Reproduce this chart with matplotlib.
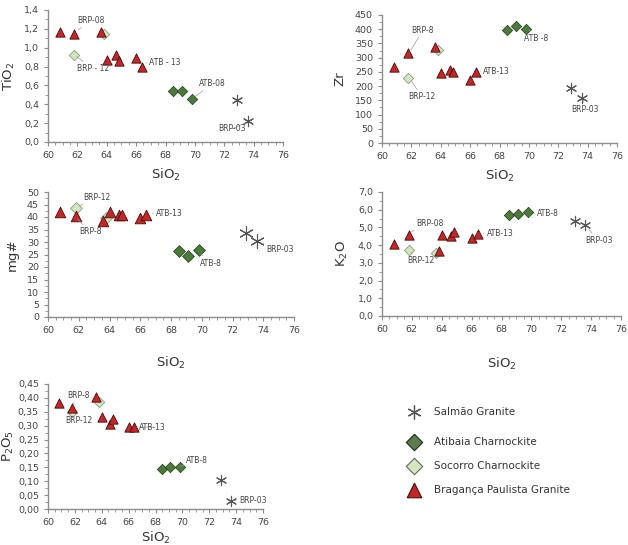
import numpy as np
import matplotlib
matplotlib.use("Agg")
import matplotlib.pyplot as plt
from matplotlib.ticker import MultipleLocator, FuncFormatter

# SiO2 per suite
BRP_SIO2 = [60.8, 61.8, 63.6, 64.0, 64.6, 64.8, 66.0, 66.4]
SOC_SIO2 = [61.8, 63.8]
ATB_SIO2 = [68.5, 69.1, 69.8]
SAL_SIO2 = [72.9, 73.6]

# TiO2
BRP_TIO2 = [1.17, 1.15, 1.17, 0.87, 0.92, 0.86, 0.89, 0.80]
SOC_TIO2 = [0.92, 1.15]
ATB_TIO2 = [0.54, 0.54, 0.46]
SAL_TIO2 = [0.45, 0.22]
# Zr
BRP_ZR = [268, 315, 338, 247, 258, 250, 220, 248]
SOC_ZR = [228, 326]
ATB_ZR = [396, 412, 400]
SAL_ZR = [195, 157]
# mg#
BRP_MG = [42.0, 40.5, 38.5, 42.0, 41.0, 41.0, 39.5, 41.0]
SOC_MG = [43.5, 39.5]
ATB_MG = [26.5, 24.5, 27.0]
SAL_MG = [33.5, 30.5]
# K2O
BRP_K2O = [4.05, 4.6, 3.65, 4.55, 4.5, 4.75, 4.4, 4.65]
BRP_K2O_SIO2 = [60.8, 61.8, 63.8, 64.0, 64.6, 64.8, 66.0, 66.4]
SOC_K2O = [3.75, 3.55]
SOC_K2O_SIO2 = [61.8, 63.6]
ATB_K2O = [5.72, 5.75, 5.85]
SAL_K2O = [5.35, 5.15]
# P2O5
BRP_P2O5 = [0.38, 0.365, 0.405, 0.33, 0.305, 0.325, 0.295, 0.295]
SOC_P2O5 = [0.35, 0.385]
ATB_P2O5 = [0.145, 0.15, 0.15]
SAL_P2O5 = [0.105, 0.03]

LEGEND = ["Salmão Granite", "Atibaia Charnockite", "Socorro Charnockite",
          "Bragança Paulista Granite"]

RED, RED_E = "#c0282a", "#4a0a0a"
DKG, DKG_E = "#4b7a3a", "#1e3a18"
LTG, LTG_E = "#d3e6bf", "#8a9a80"
GRAY = "#555555"
AX = "#8c8c8c"

W, H = 628, 545
fig = plt.figure(figsize=(W / 100, H / 100), dpi=100)


def px(l, r, t, b):
    return [l / W, 1 - b / H, (r - l) / W, (b - t) / H]


def comma(dec):
    return FuncFormatter(lambda v, p: f"{v:.{dec}f}".replace(".", ","))


def panel(rect, ylim, ymaj, ymin, dec, ylabel, xlabpad, ylabpad):
    ax = fig.add_axes(rect)
    ax.set_xlim(60, 76)
    ax.set_ylim(*ylim)
    for s in ["top", "right"]:
        ax.spines[s].set_visible(False)
    for s in ["left", "bottom"]:
        ax.spines[s].set_color(AX)
        ax.spines[s].set_linewidth(1.0)
    ax.xaxis.set_major_locator(MultipleLocator(2))
    ax.xaxis.set_minor_locator(MultipleLocator(0.5))
    ax.yaxis.set_major_locator(MultipleLocator(ymaj))
    ax.yaxis.set_minor_locator(MultipleLocator(ymin))
    ax.yaxis.set_major_formatter(comma(dec))
    ax.tick_params(which="both", colors=AX, labelcolor="#444444", labelsize=6.8,
                   direction="out")
    ax.tick_params(which="major", length=3)
    ax.tick_params(which="minor", length=2)
    ax.set_xlabel("SiO$_2$", fontsize=9.5, color="#333333", labelpad=xlabpad)
    ax.set_ylabel(ylabel, fontsize=9.5, color="#333333", labelpad=ylabpad)
    return ax


def draw(ax, sx, sy, ax_, ay, ox, oy, tx, ty, big=False):
    s = 1.3 if big else 1.0
    ax.scatter(tx, ty, marker="^", s=45 * s, c=RED, edgecolors=RED_E, linewidths=0.6, zorder=3)
    ax.scatter(ox, oy, marker="D", s=28 * s, c=LTG, edgecolors=LTG_E, linewidths=0.6, zorder=2)
    ax.scatter(ax_, ay, marker="D", s=28 * s, c=DKG, edgecolors=DKG_E, linewidths=0.5, zorder=3)
    ax.scatter(sx, sy, marker=(6, 2, 0), s=55 * (1.8 if big else 1.0), c=GRAY,
               linewidths=0.8, zorder=3)


def note(ax, text, xy, xytext):
    ax.annotate(text, xy=xy, xytext=xytext, fontsize=5.5, color="#444444",
                ha="left", va="center",
                arrowprops=dict(arrowstyle="-", color="#999999", lw=0.5,
                                shrinkA=0, shrinkB=2))


# TiO2
a1 = panel(px(48, 283, 10, 142), (0, 1.4), 0.2, 0.1, 1, "TiO$_2$", 5, 5)
draw(a1, SAL_SIO2, SAL_TIO2, ATB_SIO2, ATB_TIO2, SOC_SIO2, SOC_TIO2, BRP_SIO2, BRP_TIO2)
note(a1, "BRP-08", (61.9, 1.17), (62.0, 1.29))
note(a1, "BRP - 12", (61.8, 0.92), (62.0, 0.78))
note(a1, "ATB - 13", (66.5, 0.84), (66.9, 0.84))
note(a1, "ATB-08", (69.9, 0.47), (70.3, 0.62))
note(a1, "BRP-03", (73.6, 0.21), (71.6, 0.14))

# Zr
a2 = panel(px(382, 617, 15, 143), (0, 450), 50, 25, 0, "Zr", 5, 6)
draw(a2, SAL_SIO2, SAL_ZR, ATB_SIO2, ATB_ZR, SOC_SIO2, SOC_ZR, BRP_SIO2, BRP_ZR)
note(a2, "BRP-8", (61.9, 320), (62.0, 397))
note(a2, "BRP-12", (61.9, 225), (61.8, 162))
note(a2, "ATB-13", (66.5, 253), (66.9, 253))
note(a2, "ATB -8", (70.0, 398), (69.7, 369))
note(a2, "BRP-03", (73.7, 150), (72.9, 118))

# mg#
a3 = panel(px(48, 294, 192, 317), (0, 50), 5, 2.5, 0, "mg#", 14, 6)
draw(a3, SAL_SIO2, SAL_MG, ATB_SIO2, ATB_MG, SOC_SIO2, SOC_MG, BRP_SIO2, BRP_MG, big=True)
note(a3, "BRP-12", (61.9, 44), (62.3, 48))
note(a3, "BRP-8", (61.8, 40), (62.0, 34))
note(a3, "ATB-13", (66.6, 41.5), (67.0, 41.6))
note(a3, "ATB-8", (69.8, 26), (69.9, 21.6))
note(a3, "BRP-03", (73.7, 30), (74.2, 27))

# K2O
a4 = panel(px(382, 621, 192, 316), (0, 7), 1, 0.5, 1, "K$_2$O", 16, 6)
draw(a4, SAL_SIO2, SAL_K2O, ATB_SIO2, ATB_K2O, SOC_K2O_SIO2, SOC_K2O, BRP_K2O_SIO2, BRP_K2O)
note(a4, "BRP-08", (61.8, 4.7), (62.3, 5.25))
note(a4, "BRP-12", (61.8, 3.7), (61.7, 3.16))
note(a4, "ATB-13", (66.6, 4.66), (67.0, 4.66))
note(a4, "ATB-8", (70.0, 5.8), (70.4, 5.76))
note(a4, "BRP-03", (73.7, 5.0), (73.6, 4.28))

# P2O5
a5 = panel(px(48, 263, 384, 509), (0, 0.45), 0.05, 0.025, 2, "P$_2$O$_5$", 2, 1)
draw(a5, SAL_SIO2, SAL_P2O5, ATB_SIO2, ATB_P2O5, SOC_SIO2, SOC_P2O5, BRP_SIO2, BRP_P2O5)
note(a5, "BRP-8", (61.8, 0.37), (61.4, 0.41))
note(a5, "BRP-12", (61.8, 0.345), (61.3, 0.317))
note(a5, "ATB-13", (66.6, 0.295), (66.8, 0.295))
note(a5, "ATB-8", (69.9, 0.155), (70.3, 0.173))
note(a5, "BRP-03", (73.8, 0.03), (74.2, 0.032))

# legend
lg = fig.add_axes([0, 0, 1, 1], zorder=-1)
lg.set_xlim(0, W)
lg.set_ylim(H, 0)
lg.axis("off")
rows = [412, 442, 466, 490]
styles = [
    dict(marker=(6, 2, 0), s=90, c=GRAY, linewidths=0.9),
    dict(marker="D", s=70, c="#5b7d4b", edgecolors="#222222", linewidths=0.8),
    dict(marker="D", s=70, c=LTG, edgecolors="#666666", linewidths=0.8),
    dict(marker="^", s=110, c=RED, edgecolors=RED_E, linewidths=0.8),
]
for y, lab, st in zip(rows, LEGEND, styles):
    lg.scatter([414], [y], **st)
    lg.text(434, y, lab, fontsize=7.5, color="#333333", va="center", ha="left")

fig.savefig("out.png", dpi=100)
